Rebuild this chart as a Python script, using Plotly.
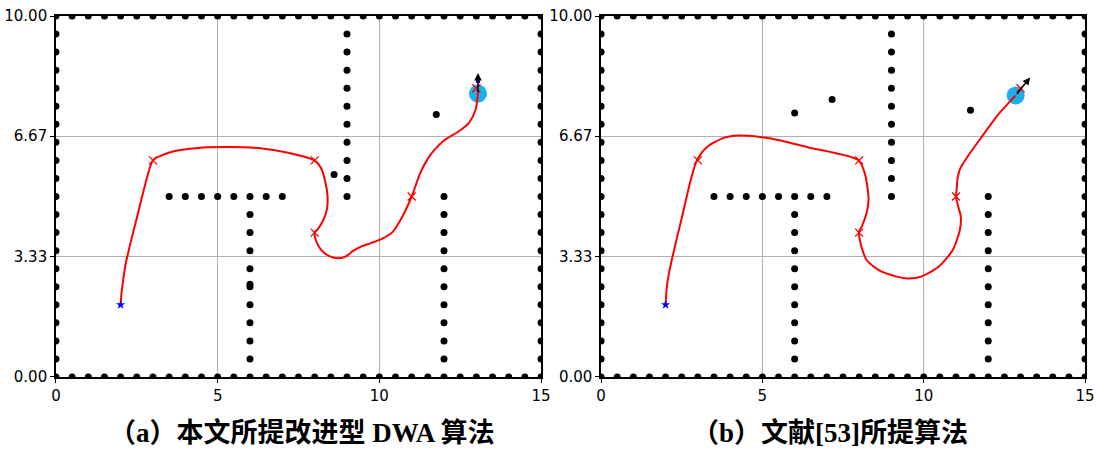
import plotly.graph_objects as go

# ---- map boundary (obstacle points along the walls) ----
wall_xs = [0.0, 0.5, 1.0, 1.5, 2.0, 2.5, 3.0, 3.5, 4.0, 4.5, 5.0, 5.5, 6.0, 6.5, 7.0, 7.5,
           8.0, 8.5, 9.0, 9.5, 10.0, 10.5, 11.0, 11.5, 12.0, 12.5, 13.0, 13.5, 14.0, 14.5, 15.0]
wall_ys = [0.5, 1.0, 1.5, 2.0, 2.5, 3.0, 3.5, 4.0, 4.5, 5.0, 5.5, 6.0, 6.5, 7.0, 7.5,
           8.0, 8.5, 9.0, 9.5]

# ---- interior walls ----
col9_y = [5.0, 5.5, 6.0, 6.5, 7.0, 7.5, 8.0, 8.5, 9.0, 9.5]
row5_x = [3.5, 4.0, 4.5, 5.0, 5.5, 6.0, 6.5, 7.0]
col6_y = [0.5, 1.0, 1.5, 2.0, 2.5, 3.0, 3.5, 4.0, 4.5]
col12_y = [0.5, 1.0, 1.5, 2.0, 2.5, 3.0, 3.5, 4.0, 4.5, 5.0]

# extra (dynamic) obstacles in each scenario
extra_a_x = [8.6, 11.76, 6.0]
extra_a_y = [5.61, 7.27, 2.57]
extra_b_x = [6.0, 7.16, 11.45]
extra_b_y = [7.31, 7.69, 7.39]

# ---- start / waypoints ----
start = (2.0, 2.0)
way_x = [3.0, 8.0, 8.0, 11.0, 13.0]
way_y = [6.0, 6.0, 4.0, 5.0, 8.0]

# ---- trajectories ----
path_a_x = [2.0, 2.03, 2.08, 2.16, 2.33, 2.54, 2.75, 3.0,
            3.3, 3.68, 4.33, 5.3, 6.39, 7.25, 8.0,
            8.2, 8.33, 8.4, 8.38, 8.28, 8.1, 8.0,
            8.04, 8.2, 8.45, 8.75, 8.98, 9.2, 9.45, 9.74, 10.06, 10.39, 10.71, 11.0,
            11.26, 11.5, 11.69, 12.01, 12.45, 12.77, 12.97, 13.04, 13.05]
path_a_y = [2.0, 2.35, 2.7, 3.15, 3.8, 4.54, 5.3, 6.0,
            6.15, 6.26, 6.34, 6.37, 6.33, 6.2, 6.0,
            5.78, 5.4, 5.0, 4.65, 4.37, 4.1, 4.0,
            3.78, 3.52, 3.35, 3.29, 3.35, 3.5, 3.62, 3.71, 3.82, 4.0, 4.44, 5.0,
            5.64, 6.05, 6.28, 6.56, 6.8, 7.04, 7.39, 7.76, 7.95]

path_b_x = [2.0, 2.04, 2.1, 2.24, 2.51, 2.78, 2.97,
            3.27, 3.82, 4.3, 4.58, 5.34, 6.43, 7.99,
            8.18, 8.27, 8.29, 8.23, 8.1, 7.99,
            8.02, 8.07, 8.23, 8.61, 9.16, 9.49, 9.92, 10.47, 10.9, 11.12, 11.15, 11.07, 11.0,
            11.02, 11.05, 11.12, 11.34, 11.78, 12.32, 12.85]
path_b_y = [2.0, 2.5, 2.85, 3.43, 4.44, 5.46, 6.0,
            6.36, 6.63, 6.69, 6.68, 6.59, 6.36, 6.0,
            5.62, 5.16, 4.9, 4.54, 4.21, 4.0,
            3.8, 3.61, 3.24, 2.96, 2.78, 2.73, 2.78, 3.06, 3.52, 4.07, 4.44, 4.72, 5.0,
            5.2, 5.5, 5.75, 6.08, 6.63, 7.28, 7.8]

# robot pose (position + heading tip) at the end of each run
robot_a = (13.05, 7.85)
heading_a = (13.05, 8.42)
predict_a = (13.05, 8.2)
robot_b = (12.85, 7.8)
heading_b = (13.3, 8.3)

y_ticks = [0.0, 3.33, 6.67, 10.0]
y_tick_text = ["0.00", "3.33", "6.67", "10.00"]
x_ticks = [0, 5, 10, 15]

captions = ["<b>（a）本文所提改进型 DWA 算法</b>", "<b>（b）文献[53]所提算法</b>"]

OBST = "black"
PATH = "#ff0000"
ROBOT = "#1ab0ee"


def obstacle_points(extra_x, extra_y):
    xs, ys = [], []
    for x in wall_xs:
        xs += [x, x]
        ys += [0.0, 10.0]
    for y in wall_ys:
        xs += [0.0, 15.0]
        ys += [y, y]
    xs += [9.0] * len(col9_y); ys += col9_y
    xs += row5_x; ys += [5.0] * len(row5_x)
    xs += [6.0] * len(col6_y); ys += col6_y
    xs += [12.0] * len(col12_y); ys += col12_y
    xs += extra_x; ys += extra_y
    return xs, ys


fig = go.Figure()


def add_panel(xa, ya, extra_x, extra_y, px, py, robot, heading, predict=None):
    ox, oy = obstacle_points(extra_x, extra_y)
    fig.add_trace(go.Scatter(x=ox, y=oy, mode="markers", xaxis=xa, yaxis=ya,
                             marker=dict(color=OBST, size=7), showlegend=False))
    fig.add_trace(go.Scatter(x=[robot[0]], y=[robot[1]], mode="markers", xaxis=xa, yaxis=ya,
                             marker=dict(color=ROBOT, size=18), showlegend=False))
    fig.add_trace(go.Scatter(x=px, y=py, mode="lines", xaxis=xa, yaxis=ya,
                             line=dict(color=PATH, width=2, shape="spline", smoothing=0.7),
                             showlegend=False))
    fig.add_trace(go.Scatter(x=way_x, y=way_y, mode="markers", xaxis=xa, yaxis=ya,
                             marker=dict(symbol="x-thin", size=8, color=PATH,
                                         line=dict(color=PATH, width=1.3)),
                             showlegend=False))
    fig.add_trace(go.Scatter(x=[start[0]], y=[start[1]], mode="markers", xaxis=xa, yaxis=ya,
                             marker=dict(symbol="star", size=7, color="blue"),
                             showlegend=False))
    if predict is not None:
        fig.add_trace(go.Scatter(x=[predict[0]], y=[predict[1]], mode="markers",
                                 xaxis=xa, yaxis=ya,
                                 marker=dict(symbol="square", size=4, color="blue"),
                                 showlegend=False))
    fig.add_annotation(x=heading[0], y=heading[1], ax=robot[0], ay=robot[1],
                       xref=xa, yref=ya, axref=xa, ayref=ya, text="",
                       showarrow=True, arrowhead=2, arrowsize=1, arrowwidth=1.5,
                       arrowcolor="black")


add_panel("x", "y", extra_a_x, extra_a_y, path_a_x, path_a_y, robot_a, heading_a, predict_a)
add_panel("x2", "y2", extra_b_x, extra_b_y, path_b_x, path_b_y, robot_b, heading_b)

axis_common = dict(showline=True, linecolor="black", linewidth=1.5, mirror=True,
                   ticks="outside", ticklen=4, tickcolor="black", tickwidth=1,
                   showgrid=True, gridcolor="#b0b0b0", gridwidth=1, zeroline=False,
                   automargin=False,
                   tickfont=dict(family="DejaVu Sans", size=15, color="black"))

fig.update_layout(
    width=1097, height=451,
    margin=dict(l=0, r=0, t=0, b=0, autoexpand=False),
    paper_bgcolor="white", plot_bgcolor="white",
    xaxis=dict(domain=[0.0510, 0.4932], range=[0, 15], tickvals=x_ticks, anchor="y",
               **axis_common),
    yaxis=dict(domain=[0.1641, 0.9645], range=[0, 10], tickvals=y_ticks,
               ticktext=y_tick_text, anchor="x", **axis_common),
    xaxis2=dict(domain=[0.5479, 0.9891], range=[0, 15], tickvals=x_ticks, anchor="y2",
                **axis_common),
    yaxis2=dict(domain=[0.1641, 0.9645], range=[0, 10], tickvals=y_ticks,
                ticktext=y_tick_text, anchor="x2", **axis_common),
)

for cx, text in zip([0.275, 0.757], captions):
    fig.add_annotation(x=cx, y=0.04, xref="paper", yref="paper", text=text,
                       showarrow=False, xanchor="center", yanchor="middle",
                       font=dict(family="Liberation Serif, Noto Sans CJK SC", size=27,
                                 color="black"))

fig.write_html("out.html")
